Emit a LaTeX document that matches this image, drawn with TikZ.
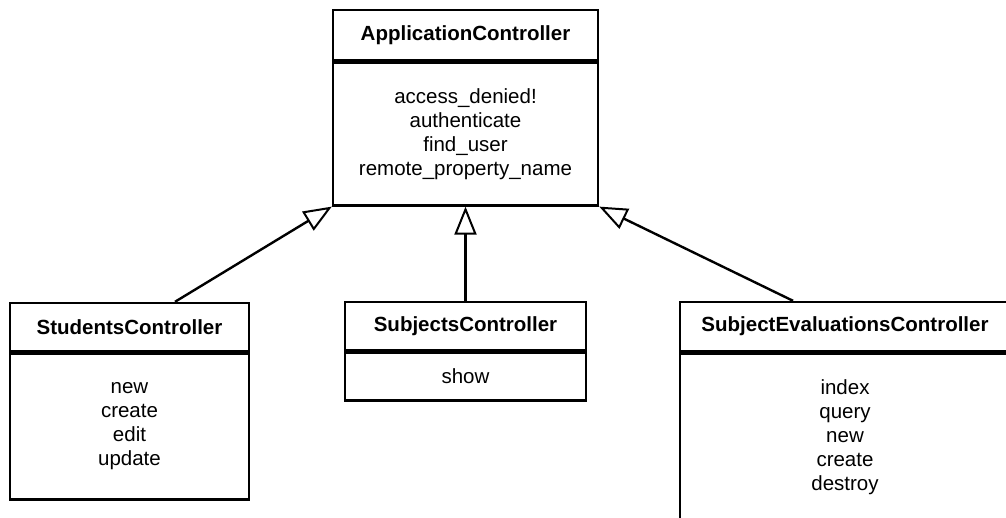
\documentclass[tikz,border=0pt]{standalone}
\usepackage{fontspec}
\setmainfont{Liberation Sans}
\usetikzlibrary{arrows.meta}
\tikzset{
  uml/.style={draw, line width=2.4pt, inner sep=0pt, align=center,
    font=\fontsize{20.5}{24}\selectfont},
  hdr/.style={uml, font=\fontsize{20.5}{24}\selectfont\bfseries},
  inh/.style={line width=2.4pt,
    -{Triangle[open, length=28pt, width=22pt, line width=2pt, fill=white]}}
}
\begin{document}
\begin{tikzpicture}[x=1pt, y=-1pt]
\useasboundingbox (0,0) rectangle (1006,517);
\clip (0,0) rectangle (1006,517);
% ApplicationController
\node[hdr, minimum width=265pt, minimum height=50pt] (app) at (465.5,35) {ApplicationController};
\node[uml, minimum width=265pt, minimum height=143pt, anchor=north] (appb) at (app.south)
  {access\_denied!\\authenticate\\find\_user\\remote\_property\_name};
% StudentsController
\node[hdr, minimum width=239pt, minimum height=48pt] (stu) at (129.5,327) {StudentsController};
\node[uml, minimum width=239pt, minimum height=146pt, anchor=north] (stub) at (stu.south)
  {new\\create\\edit\\update};
% SubjectsController
\node[hdr, minimum width=241pt, minimum height=48pt] (sub) at (465.5,326) {SubjectsController};
\node[uml, minimum width=241pt, minimum height=48pt, anchor=north] (subb) at (sub.south)
  {show};
% SubjectEvaluationsController
\node[hdr, minimum width=330pt, minimum height=49pt] (sev) at (845,326.5) {SubjectEvaluationsController};
\node[uml, minimum width=330pt, minimum height=168pt, anchor=north] (sevb) at (sev.south)
  {index\\query\\new\\create\\destroy};
% generalisation arrows
\draw[inh] ([xshift=45.5pt]stu.north) -- (appb.south west);
\draw[inh] (sub.north) -- (appb.south);
\draw[inh] ([xshift=-52pt]sev.north) -- (appb.south east);
\end{tikzpicture}
\end{document}
